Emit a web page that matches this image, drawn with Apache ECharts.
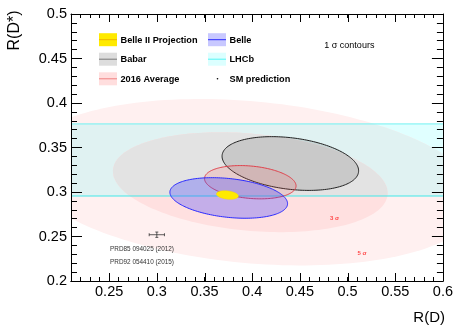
<!DOCTYPE html>
<html><head><meta charset="utf-8">
<script src="https://cdn.jsdelivr.net/npm/echarts@6/dist/echarts.min.js"></script>
<style>html,body{margin:0;padding:0;background:#fff}#c{width:456px;height:326px}</style>
</head><body><div id="c"></div><script>
// ---- axis ranges and ticks ----
const xMin = 0.21, xMax = 0.6, yMin = 0.2, yMax = 0.5;
const xMajorTicks = [0.25, 0.3, 0.35, 0.4, 0.45, 0.5, 0.55, 0.6];
const yMajorStep = 0.05, xMinorStep = 0.01;

// ---- measurements: [R(D), R(D*), sigma R(D), sigma R(D*), correlation] ----
const belle2 = [0.374, 0.2966, 0.0115, 0.0048, -0.25];
const babar = [0.440, 0.332, 0.0716, 0.0302, -0.27];
const average = [0.398, 0.311, 0.048, 0.0187, -0.22];
const belle = [0.3754, 0.2933, 0.0617, 0.0228, -0.28];
const averageLevels = [1, 3, 5];           // sigma contours of the average
const lhcbRDs = [0.336, 0.0405];           // LHCb band: R(D*) +- sigma
const smRD = [0.300, 0.008];               // SM prediction R(D) +- err
const smRDs = [0.252, 0.003];              // SM prediction R(D*) +- err

// ---- legend ----
const legendNames = ['Belle II Projection', 'Babar', '2016 Average', 'Belle', 'LHCb', 'SM prediction'];

const FONT = '"Liberation Sans", Arial, Helvetica, sans-serif';

function ellipsePts(api, v) {
  const cx = v[0], cy = v[1], sx = v[2], sy = v[3], r = v[4], k = v[5];
  const pts = [];
  const n = 180;
  const q = Math.sqrt(1 - r * r);
  for (let i = 0; i < n; i++) {
    const t = 2 * Math.PI * i / n;
    const x = cx + k * sx * Math.cos(t);
    const y = cy + k * sy * (r * Math.cos(t) + q * Math.sin(t));
    pts.push(api.coord([x, y]));
  }
  return pts;
}
function vals(api) { return [0, 1, 2, 3, 4, 5].map(i => api.value(i)); }
// clip polygon (pixel coords) to horizontal strip y0<=y<=y1
function clipEdge(pts, inside, inter) {
  const out = [];
  for (let i = 0; i < pts.length; i++) {
    const a = pts[i], b = pts[(i + 1) % pts.length];
    const ia = inside(a), ib = inside(b);
    if (ia && ib) out.push(b);
    else if (ia && !ib) out.push(inter(a, b));
    else if (!ia && ib) { out.push(inter(a, b)); out.push(b); }
  }
  return out;
}
function clipStrip(pts, y0, y1) {
  const ix = (a, b, y) => [a[0] + (b[0] - a[0]) * (y - a[1]) / (b[1] - a[1]), y];
  let p = clipEdge(pts, q => q[1] >= y0, (a, b) => ix(a, b, y0));
  if (p.length) p = clipEdge(p, q => q[1] <= y1, (a, b) => ix(a, b, y1));
  return p;
}

function ellipseSeries(name, m, level, fill, stroke, lw, z) {
  return {
    type: 'custom', name: name, z: z, clip: true, silent: true,
    xAxisIndex: 0, yAxisIndex: 0,
    data: [[m[0], m[1], m[2], m[3], m[4], level]],
    renderItem: function (params, api) {
      const pts = ellipsePts(api, vals(api));
      return { type: 'polygon', shape: { points: pts }, style: { fill: fill, stroke: stroke, lineWidth: lw } };
    }
  };
}
// average contour region, drawn with a different tint where it lies inside the LHCb band
function regionSeries(name, m, level, fillOut, fillIn, z) {
  return {
    type: 'custom', name: name, z: z, clip: true, silent: true,
    xAxisIndex: 0, yAxisIndex: 0,
    data: [[m[0], m[1], m[2], m[3], m[4], level]],
    renderItem: function (params, api) {
      const pts = ellipsePts(api, vals(api));
      const top = api.coord([xMin, lhcbRDs[0] + lhcbRDs[1]])[1];
      const bot = api.coord([xMin, lhcbRDs[0] - lhcbRDs[1]])[1];
      const inPts = clipStrip(pts, top, bot);
      const ch = [{ type: 'polygon', shape: { points: pts }, style: { fill: fillOut } }];
      if (inPts.length > 2) ch.push({ type: 'polygon', shape: { points: inPts }, style: { fill: fillIn } });
      return { type: 'group', children: ch };
    }
  };
}

const tickStyle = { color: '#000', width: 1 };
function axisCommon(extra) {
  return Object.assign({
    type: 'value', splitLine: { show: false }, z: 10,
    axisLine: { show: true, onZero: false, lineStyle: { color: '#000', width: 1 } },
    axisLabel: { show: false }, minorSplitLine: { show: false }
  }, extra);
}
const xAxes = [
  axisCommon({ min: xMin, max: xMax, position: 'bottom', interval: xMinorStep,
    axisTick: { show: true, inside: true, length: 4, lineStyle: tickStyle } }),
  axisCommon({ min: xMin, max: xMax, position: 'bottom', axisTick: { show: false },
    axisLabel: { show: true, customValues: xMajorTicks, color: '#000', fontSize: 14.5, fontFamily: FONT, margin: 3,
      formatter: v => String(+v.toFixed(2)) } }),
  axisCommon({ min: xMin, max: xMax, position: 'top', interval: xMinorStep,
    axisTick: { show: true, inside: true, length: 4, lineStyle: tickStyle } })
];
const yAxes = [
  axisCommon({ min: yMin, max: yMax, position: 'left', interval: yMajorStep,
    axisTick: { show: true, inside: true, length: 11, lineStyle: tickStyle },
    minorTick: { show: true, splitNumber: 5, length: 6, lineStyle: tickStyle },
    axisLabel: { show: true, color: '#000', fontSize: 14.5, fontFamily: FONT, margin: 4,
      formatter: v => String(+v.toFixed(2)) } }),
  axisCommon({ min: yMin, max: yMax, position: 'right', interval: yMajorStep,
    axisTick: { show: true, inside: true, length: 11, lineStyle: tickStyle },
    minorTick: { show: true, splitNumber: 5, length: 6, lineStyle: tickStyle } })
];

const series = [
  {
    type: 'custom', name: 'LHCb band', z: 1, clip: true, silent: true, xAxisIndex: 0, yAxisIndex: 0,
    data: [[lhcbRDs[0], lhcbRDs[1]]],
    renderItem: function (params, api) {
      const c = api.value(0), e = api.value(1);
      const p1 = api.coord([xMin, c + e]), p2 = api.coord([xMax, c - e]);
      return { type: 'rect', shape: { x: p1[0], y: p1[1], width: p2[0] - p1[0], height: p2[1] - p1[1] }, style: { fill: '#e0ffff' } };
    }
  },
  regionSeries('avg5', average, averageLevels[2], '#fff0f0', '#e0f2f2', 2),
  regionSeries('avg3', average, averageLevels[1], '#ffe0e0', '#e3e3e3', 3),
  {
    type: 'custom', name: 'LHCb', z: 4, clip: true, silent: true, xAxisIndex: 0, yAxisIndex: 0,
    data: [[lhcbRDs[0], lhcbRDs[1]]],
    renderItem: function (params, api) {
      const c = api.value(0), e = api.value(1);
      const p1 = api.coord([xMin, c + e]), p2 = api.coord([xMax, c - e]);
      return { type: 'group', children: [
        { type: 'line', shape: { x1: p1[0], y1: p1[1], x2: p2[0], y2: p1[1] }, style: { stroke: '#70f2f2', lineWidth: 1 } },
        { type: 'line', shape: { x1: p1[0], y1: p2[1], x2: p2[0], y2: p2[1] }, style: { stroke: '#40e8e8', lineWidth: 1 } }
      ] };
    }
  },
  ellipseSeries('Babar', babar, 1, 'rgba(120,120,120,0.24)', '#222', 1, 5),
  ellipseSeries('2016 Average', average, averageLevels[0], 'rgba(255,90,90,0.16)', '#e0404a', 1, 6),
  ellipseSeries('Belle', belle, 1, 'rgba(60,60,255,0.3)', '#2a2aff', 1, 7),
  ellipseSeries('Belle II Projection', belle2, 1, '#ffea00', '#f5d800', 0.5, 8),
  {
    type: 'custom', name: 'SM prediction', z: 9, clip: true, silent: true, xAxisIndex: 0, yAxisIndex: 0,
    data: [[smRD[0], smRD[1], smRDs[0], smRDs[1]]],
    renderItem: function (params, api) {
      const x = api.value(0), ex = api.value(1), y = api.value(2), ey = api.value(3);
      const l = api.coord([x - ex, y]), r = api.coord([x + ex, y]);
      const t = api.coord([x, y + ey]), b = api.coord([x, y - ey]);
      const s = { stroke: '#333', lineWidth: 0.8 };
      return { type: 'group', children: [
        { type: 'line', shape: { x1: l[0], y1: l[1], x2: r[0], y2: r[1] }, style: s },
        { type: 'line', shape: { x1: l[0], y1: l[1] - 1.5, x2: l[0], y2: l[1] + 1.5 }, style: s },
        { type: 'line', shape: { x1: r[0], y1: r[1] - 1.5, x2: r[0], y2: r[1] + 1.5 }, style: s },
        { type: 'line', shape: { x1: t[0], y1: t[1], x2: b[0], y2: b[1] }, style: s },
        { type: 'line', shape: { x1: t[0] - 1.5, y1: t[1], x2: t[0] + 1.5, y2: t[1] }, style: s },
        { type: 'line', shape: { x1: b[0] - 1.5, y1: b[1], x2: b[0] + 1.5, y2: b[1] }, style: s }
      ] };
    }
  },
  {
    // major ticks of the R(D) axis (bottom and top), placed through the axis scale
    type: 'custom', name: 'xMajorTicks', z: 11, clip: false, silent: true, xAxisIndex: 0, yAxisIndex: 0,
    data: xMajorTicks.map(v => [v]),
    renderItem: function (params, api) {
      const pb = api.coord([api.value(0), yMin]), pt = api.coord([api.value(0), yMax]);
      const s = { stroke: '#000', lineWidth: 1 };
      const xr = Math.round(pb[0]) + 0.5;
      return { type: 'group', children: [
        { type: 'line', shape: { x1: xr, y1: pb[1], x2: xr, y2: pb[1] - 8 }, style: s },
        { type: 'line', shape: { x1: xr, y1: pt[1], x2: xr, y2: pt[1] + 8 }, style: s }
      ] };
    }
  }
];

// legend graphics
const legFills = ['#ffea00', '#dddddd', '#ffdede', '#c8c8ff', '#dcffff', null];
const legLines = ['#f0b400', '#777777', '#f08080', '#2a2aff', '#55f5f5', null];
const legX = [99, 99, 99, 208, 208, 208];
const legY = [39.7, 59.2, 78.8, 39.7, 59.2, 78.8];
const graphics = [];
legendNames.forEach((nm, i) => {
  if (legFills[i]) {
    graphics.push({ type: 'rect', shape: { x: legX[i], y: legY[i] - 6.5, width: 18, height: 13 }, style: { fill: legFills[i] }, z: 10 });
    graphics.push({ type: 'line', shape: { x1: legX[i], y1: legY[i], x2: legX[i] + 18, y2: legY[i] }, style: { stroke: legLines[i], lineWidth: 1 }, z: 11 });
  } else {
    graphics.push({ type: 'circle', shape: { cx: legX[i] + 9.5, cy: legY[i], r: 0.8 }, style: { fill: '#000' }, z: 11 });
  }
  graphics.push({ type: 'text', x: legX[i] + 21.5, y: legY[i] + 0.3, z: 11,
    style: { text: nm, font: 'bold 9.2px ' + FONT, fill: '#000', align: 'left', verticalAlign: 'middle', textAlign: 'left', textVerticalAlign: 'middle' } });
});
function txt(x, y, s, font, fill, align, rot) {
  const o = { type: 'text', x: x, y: y, z: 12,
    style: { text: s, font: font, fill: fill, align: align || 'left', verticalAlign: 'middle', textAlign: align || 'left', textVerticalAlign: 'middle' } };
  if (rot) o.rotation = rot;
  return o;
}
graphics.push(txt(324.3, 45.3, '1 σ contours', '9px ' + FONT, '#000'));
graphics.push(txt(110, 249.3, 'PRD85 094025 (2012)', '6.4px ' + FONT, '#333'));
graphics.push(txt(110, 262.3, 'PRD92 054410 (2015)', '6.4px ' + FONT, '#333'));
graphics.push(txt(334.5, 218.5, '3 σ', 'bold 6px ' + FONT, '#ff4a4a', 'center'));
graphics.push(txt(362, 253.5, '5 σ', 'bold 6px ' + FONT, '#ff4a4a', 'center'));
graphics.push(txt(445, 318.3, 'R(D)', '15px ' + FONT, '#000', 'right'));
graphics.push(txt(15, 30.5, 'R(D*)', '16px ' + FONT, '#000', 'center', Math.PI / 2));

const chart = echarts.init(document.getElementById('c'), null, { renderer: 'canvas' });
chart.setOption({
  animation: false,
  backgroundColor: '#fff',
  grid: { left: 71, right: 12, top: 14, bottom: 45, containLabel: false },
  xAxis: xAxes,
  yAxis: yAxes,
  series: series,
  graphic: { elements: graphics }
});
</script></body></html>
